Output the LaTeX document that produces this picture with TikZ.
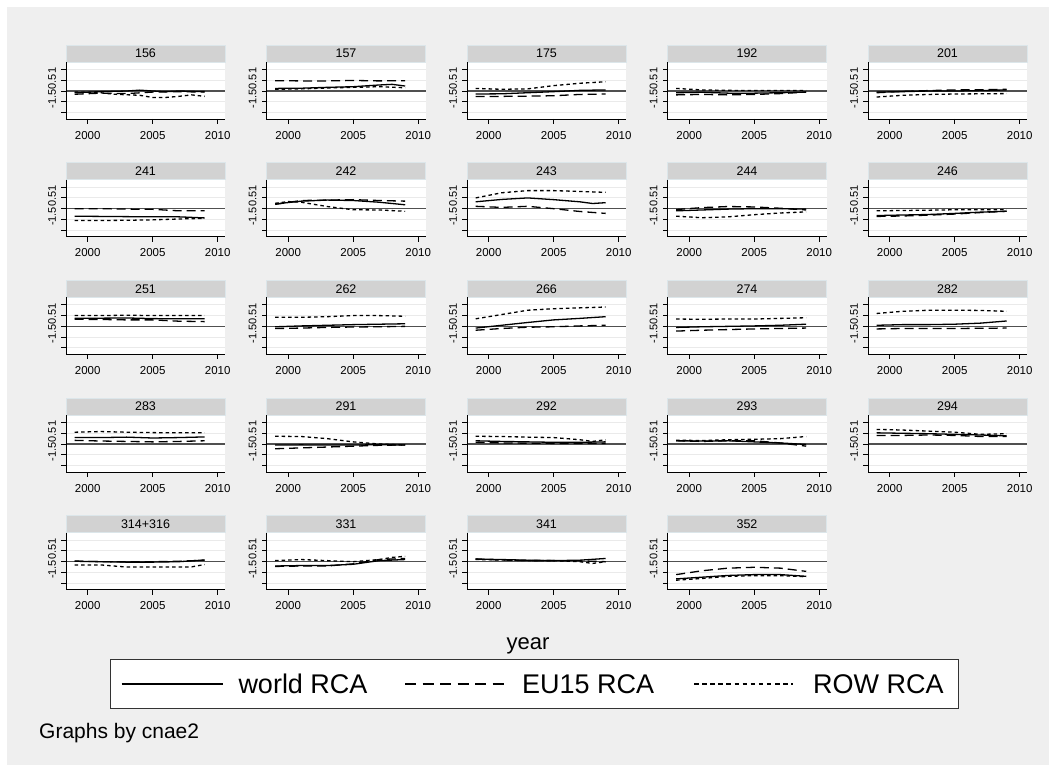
\documentclass[tikz,border=0pt]{standalone}
\usepackage{fontspec}
\setmainfont{Liberation Sans}
\definecolor{bggray}{HTML}{EFEFEF}
\definecolor{hdrgray}{HTML}{D2D2D2}
\definecolor{hdrborder}{HTML}{DCE6EA}
\definecolor{gridc}{HTML}{EAEAEA}
\definecolor{zeroc}{HTML}{505050}
\tikzset{
  gridline/.style={draw=gridc,line width=1pt},
  zeroline/.style={draw=zeroc,line width=1.1pt},
  hdr/.style={fill=hdrgray,draw=hdrborder,line width=0.6pt},
  hdrtext/.style={font=\fontsize{12.5}{14}\selectfont,inner sep=0pt},
  ticklab/.style={font=\fontsize{11.5}{13}\selectfont,inner sep=0pt},
  ylab/.style={font=\fontsize{11}{13}\selectfont,inner sep=0pt,rotate=90},
  axisline/.style={draw=black,line width=0.9pt},
  sworld/.style={draw=black,line width=1.3pt,line join=round},
  seu/.style={draw=black,line width=1.3pt,line join=round,dash pattern=on 9pt off 5pt},
  srow/.style={draw=black,line width=1.3pt,line join=round,dash pattern=on 3.5pt off 3pt},
  lworld/.style={draw=black,line width=2pt},
  leu/.style={draw=black,line width=2pt,dash pattern=on 11pt off 6.5pt},
  lrow/.style={draw=black,line width=2pt,dash pattern=on 4.5pt off 3.6pt},
  legtext/.style={font=\fontsize{27}{30}\selectfont,inner sep=0pt,anchor=west},
}
\newcommand\panel[6]{%
 \pgfmathsetmacro\pL{66+200.5*#1+21.7}%
 \pgfmathsetmacro\pZ{91+117.67*#2}%
 \begin{scope}[shift={(\pL,\pZ)},x=13pt,y=21.5pt]
  \fill[white] (-1.669,-1.302) rectangle (10.562,1.349);
  \foreach \g in {-1,-0.5,0.5,1} \draw[gridline] (-1.669,\g) -- (10.562,\g);
  \draw[zeroline] (-1.669,0) -- (10.562,0);
  \draw[hdr] (-1.669,1.349) rectangle (10.562,2.140);
  \node[hdrtext] (h-#1-#2) at (4.447,1.745) {#3};
  \draw[sworld] plot coordinates {#4};
  \draw[seu] plot coordinates {#5};
  \draw[srow] plot coordinates {#6};
  \draw[axisline] (-1.669,1.349) -- (-1.669,-1.302) -- (10.562,-1.302);
  \foreach \t in {-1,-0.5,0,0.5,1} \draw[axisline] (-1.669,\t) -- ++(-5pt,0pt);
  \foreach \t in {0,5,10} {\draw[axisline] (\t,-1.302) -- ++(0pt,-5pt);
    \node[ticklab] (x-#1-#2-\t) at (\t,-2.05) {\the\numexpr2000+\t\relax};}
  \node[ylab] (y-#1-#2) at (-2.746,0.14) {-1.50.51};
 \end{scope}}
\begin{document}
\begin{tikzpicture}[x=1pt,y=-1pt]
\useasboundingbox (0,0) rectangle (1056,772);
\fill[white] (0,0) rectangle (1056,772);
\fill[bggray] (7,7) rectangle (1049,765);
% row 0
\panel{0}{0}{156}
 {(-1,-0.08) (1,-0.03) (3,0.0) (4,0.04) (5,0.0) (6,-0.03) (7,0.0) (9,-0.03)}
 {(-1,-0.15) (1,-0.1) (3,-0.12) (5,-0.05) (7,-0.03) (9,-0.05)}
 {(-1,-0.05) (1,-0.08) (2,-0.15) (4,-0.2) (5,-0.3) (6,-0.3) (7,-0.25) (8,-0.18) (9,-0.25)}
\panel{1}{0}{157}
 {(-1,0.12) (1,0.13) (3,0.17) (5,0.2) (7,0.28) (8,0.31) (9,0.23)}
 {(-1,0.48) (1,0.47) (3,0.47) (5,0.49) (7,0.47) (9,0.48)}
 {(-1,0.08) (1,0.1) (3,0.14) (5,0.17) (7,0.2) (9,0.15)}
\panel{2}{0}{175}
 {(-1,-0.14) (1,-0.13) (3,-0.08) (5,-0.03) (7,0.03) (9,0.05)}
 {(-1,-0.26) (1,-0.25) (3,-0.24) (5,-0.22) (7,-0.16) (9,-0.14)}
 {(-1,0.12) (1,0.08) (3,0.1) (5,0.25) (7,0.36) (9,0.43)}
\panel{3}{0}{192}
 {(-1,-0.08) (1,-0.06) (3,-0.1) (5,-0.1) (7,-0.08) (9,-0.05)}
 {(-1,-0.18) (1,-0.16) (3,-0.18) (5,-0.16) (7,-0.12) (9,-0.05)}
 {(-1,0.12) (1,0.05) (3,0.03) (5,0.02) (7,0.02) (9,0.02)}
\panel{4}{0}{201}
 {(-1,-0.05) (1,-0.03) (3,0.0) (5,0.0) (7,0.02) (9,0.05)}
 {(-1,-0.08) (1,-0.02) (3,0.02) (5,0.05) (7,0.06) (9,0.08)}
 {(-1,-0.28) (1,-0.2) (3,-0.16) (5,-0.14) (7,-0.13) (9,-0.12)}
% row 1
\panel{0}{1}{241}
 {(-1,-0.35) (1,-0.36) (3,-0.37) (5,-0.38) (7,-0.38) (9,-0.43)}
 {(-1,0.0) (1,0.0) (3,-0.02) (5,-0.03) (7,-0.1) (9,-0.1)}
 {(-1,-0.55) (1,-0.55) (3,-0.54) (5,-0.52) (7,-0.48) (9,-0.45)}
\panel{1}{1}{242}
 {(-1,0.22) (1,0.35) (3,0.4) (5,0.38) (7,0.3) (9,0.18)}
 {(-1,0.2) (1,0.38) (3,0.4) (5,0.42) (7,0.38) (9,0.35)}
 {(-1,0.25) (0,0.33) (1,0.3) (3,0.1) (5,-0.05) (7,-0.06) (9,-0.12)}
\panel{2}{1}{243}
 {(-1,0.32) (1,0.43) (3,0.5) (5,0.42) (7,0.32) (8,0.24) (9,0.28)}
 {(-1,0.11) (1,0.06) (3,0.11) (5,0.0) (7,-0.13) (9,-0.22)}
 {(-1,0.5) (1,0.74) (3,0.84) (5,0.84) (7,0.8) (9,0.76)}
\panel{3}{1}{244}
 {(-1,-0.1) (1,-0.06) (3,-0.02) (5,0.0) (7,0.0) (9,-0.02)}
 {(-1,-0.04) (1,0.05) (3,0.1) (5,0.08) (7,0.02) (9,-0.06)}
 {(-1,-0.35) (1,-0.42) (3,-0.38) (5,-0.28) (7,-0.2) (9,-0.15)}
\panel{4}{1}{246}
 {(-1,-0.32) (3,-0.27) (5,-0.22) (7,-0.16) (9,-0.12)}
 {(-1,-0.36) (1,-0.34) (3,-0.3) (5,-0.25) (7,-0.18) (9,-0.12)}
 {(-1,-0.1) (3,-0.07) (5,-0.05) (7,-0.05) (9,-0.05)}
% row 2
\panel{0}{2}{251}
 {(-1,0.38) (1,0.38) (3,0.39) (5,0.36) (7,0.35) (9,0.35)}
 {(-1,0.33) (1,0.32) (3,0.3) (5,0.3) (7,0.24) (9,0.22)}
 {(-1,0.5) (1,0.5) (3,0.52) (5,0.5) (7,0.5) (9,0.5)}
\panel{1}{2}{262}
 {(-1,-0.02) (1,0.02) (3,0.05) (5,0.08) (7,0.1) (9,0.12)}
 {(-1,-0.1) (1,-0.08) (3,-0.05) (5,-0.03) (7,-0.02) (9,0.0)}
 {(-1,0.42) (1,0.42) (3,0.45) (5,0.5) (7,0.5) (9,0.47)}
\panel{2}{2}{266}
 {(-1,-0.08) (1,0.05) (3,0.18) (5,0.3) (7,0.37) (9,0.45)}
 {(-1,-0.18) (1,-0.1) (3,-0.04) (5,-0.02) (7,0.02) (9,0.05)}
 {(-1,0.35) (1,0.55) (3,0.75) (5,0.82) (7,0.86) (9,0.9)}
\panel{3}{2}{274}
 {(-1,-0.05) (1,-0.02) (3,0.0) (5,0.02) (7,0.05) (9,0.1)}
 {(-1,-0.22) (1,-0.18) (3,-0.15) (5,-0.12) (7,-0.1) (9,-0.08)}
 {(-1,0.34) (1,0.33) (3,0.34) (5,0.34) (7,0.37) (9,0.4)}
\panel{4}{2}{282}
 {(-1,0.05) (1,0.08) (3,0.08) (5,0.1) (7,0.15) (9,0.25)}
 {(-1,-0.12) (1,-0.1) (3,-0.1) (5,-0.1) (7,-0.09) (9,-0.08)}
 {(-1,0.6) (1,0.7) (3,0.75) (5,0.75) (7,0.74) (9,0.7)}
% row 3
\panel{0}{3}{283}
 {(-1,0.3) (1,0.3) (3,0.32) (5,0.28) (7,0.3) (9,0.33)}
 {(-1,0.17) (1,0.14) (3,0.12) (5,0.1) (7,0.12) (9,0.15)}
 {(-1,0.55) (1,0.58) (3,0.55) (5,0.53) (7,0.52) (9,0.52)}
\panel{1}{3}{291}
 {(-1,-0.05) (1,-0.04) (3,-0.05) (5,-0.05) (7,-0.03) (9,-0.05)}
 {(-1,-0.22) (1,-0.18) (3,-0.14) (5,-0.1) (7,-0.06) (9,-0.04)}
 {(-1,0.36) (1,0.35) (3,0.25) (5,0.1) (7,0.0) (9,-0.05)}
\panel{2}{3}{292}
 {(-1,0.15) (1,0.12) (3,0.1) (5,0.08) (7,0.08) (9,0.1)}
 {(-1,0.08) (1,0.05) (3,0.04) (5,0.03) (7,0.03) (9,0.03)}
 {(-1,0.36) (1,0.35) (3,0.32) (5,0.3) (7,0.2) (8,0.12) (9,0.2)}
\panel{3}{3}{293}
 {(-1,0.15) (1,0.14) (3,0.15) (5,0.1) (7,0.05) (9,-0.02)}
 {(-1,0.15) (1,0.12) (3,0.15) (5,0.15) (7,0.05) (9,-0.1)}
 {(-1,0.18) (1,0.16) (3,0.2) (5,0.22) (7,0.25) (9,0.35)}
\panel{4}{3}{294}
 {(-1,0.52) (1,0.5) (3,0.48) (5,0.45) (7,0.42) (9,0.38)}
 {(-1,0.4) (1,0.4) (3,0.42) (5,0.4) (7,0.35) (9,0.35)}
 {(-1,0.68) (1,0.65) (3,0.6) (5,0.55) (7,0.45) (9,0.48)}
% row 4
\panel{0}{4}{314+316}
 {(-1,0.02) (1,0.0) (3,-0.02) (5,-0.02) (7,0.0) (9,0.08)}
 {(-1,0.03) (1,0.0) (3,-0.01) (5,0.0) (7,0.02) (9,0.07)}
 {(-1,-0.15) (1,-0.15) (3,-0.25) (5,-0.25) (7,-0.25) (8,-0.24) (9,-0.13)}
\panel{1}{4}{331}
 {(-1,-0.2) (1,-0.18) (3,-0.18) (5,-0.12) (7,0.05) (9,0.1)}
 {(-1,-0.22) (1,-0.2) (3,-0.2) (5,-0.1) (7,0.1) (9,0.15)}
 {(-1,0.05) (1,0.1) (3,0.05) (5,0.0) (7,0.1) (8,0.2) (9,0.25)}
\panel{2}{4}{341}
 {(-1,0.12) (1,0.1) (3,0.07) (5,0.05) (7,0.07) (9,0.15)}
 {(-1,0.13) (1,0.08) (3,0.05) (5,0.05) (7,0.04) (9,0.0)}
 {(-1,0.1) (1,0.08) (3,0.05) (5,0.05) (7,0.0) (8,-0.08) (9,0.0)}
\panel{3}{4}{352}
 {(-1,-0.8) (1,-0.72) (3,-0.64) (5,-0.6) (7,-0.6) (9,-0.68)}
 {(-1,-0.6) (1,-0.42) (3,-0.3) (5,-0.26) (7,-0.3) (9,-0.45)}
 {(-1,-0.86) (1,-0.78) (3,-0.68) (5,-0.65) (7,-0.65) (9,-0.7)}
% axis title
\node[font=\fontsize{22}{25}\selectfont,inner sep=0pt] (xtitle) at (528,646) {year};
% legend
\draw[fill=white,draw=black!80,line width=1pt] (110.7,659) rectangle (958,708);
\coordinate (a1) at (121.7,683.7); \coordinate (a2) at (222.7,683.7);
\coordinate (b1) at (405,683.7); \coordinate (b2) at (506,683.7);
\coordinate (c1) at (694,683.7); \coordinate (c2) at (793,683.7);
\draw[lworld] (a1) -- (a2);
\draw[leu] (b1) -- (b2);
\draw[lrow] (c1) -- (c2);
\node[legtext] (t1) at (238.3,684) {world RCA};
\node[legtext] (t2) at (522,684) {EU15 RCA};
\node[legtext] (t3) at (813,684) {ROW RCA};
\node[font=\fontsize{21}{24}\selectfont,inner sep=0pt,anchor=west] (note) at (39,733) {Graphs by cnae2};
\end{tikzpicture}
\end{document}
